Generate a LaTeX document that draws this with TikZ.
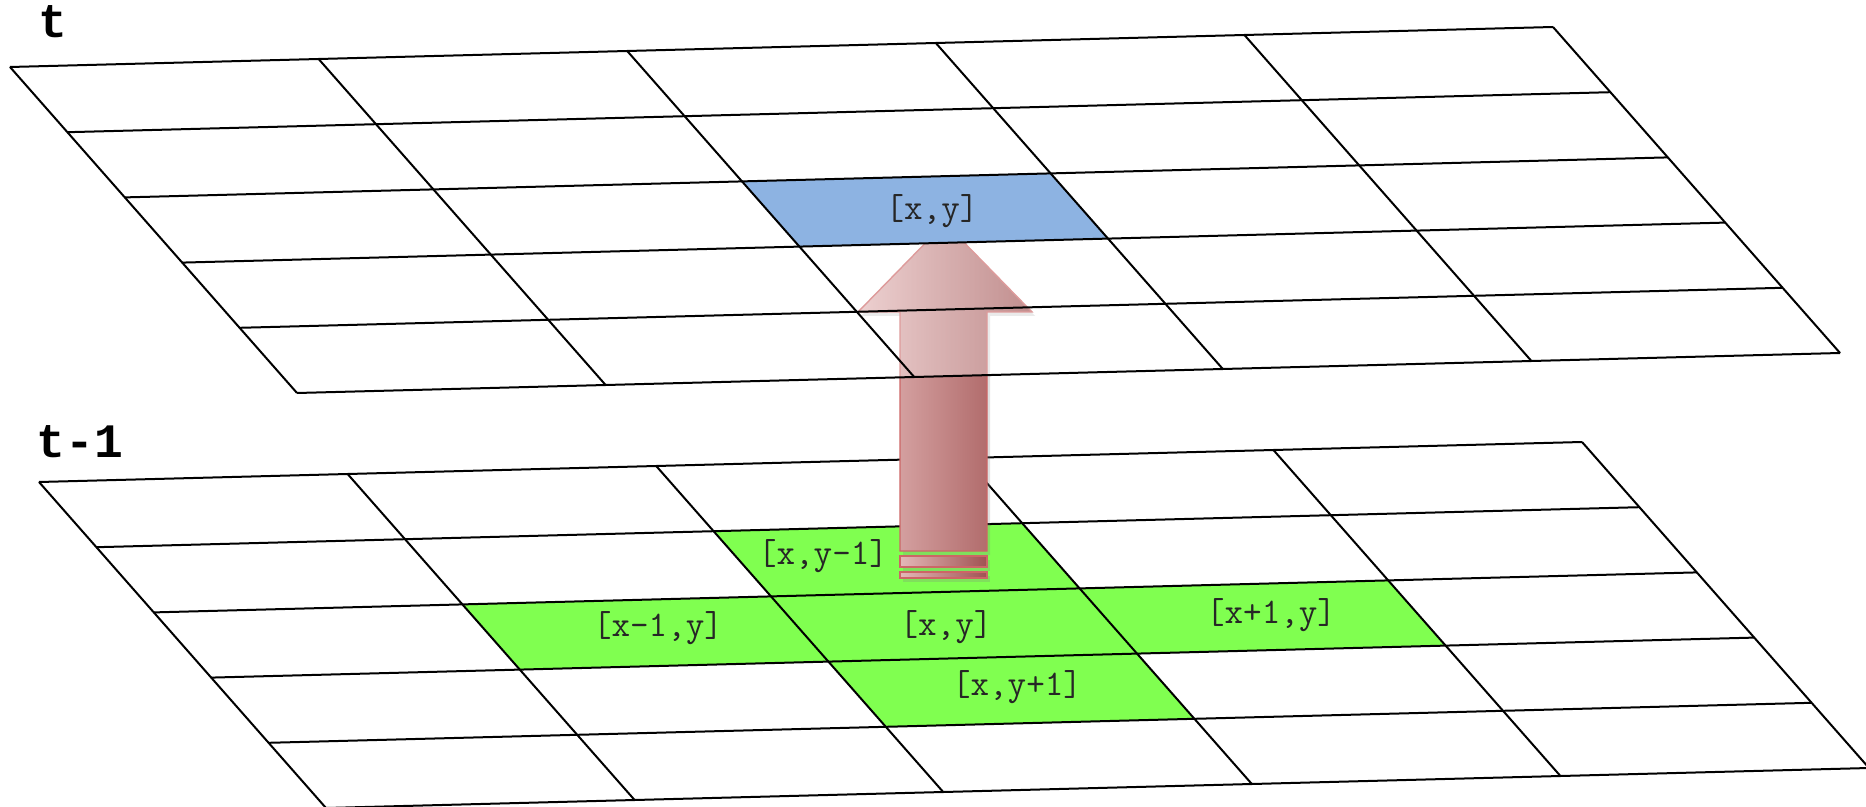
\documentclass[tikz,border=0pt]{standalone}
\usepackage{fontspec}
\newfontfamily\planefont{Liberation Mono}
\usepackage{tikz}
\usetikzlibrary{shadows}
\definecolor{cellblue}{HTML}{8DB3E2}
\definecolor{cellgreen}{HTML}{80FF50}
\definecolor{arrowlight}{HTML}{E4B8B8}
\definecolor{arrowdark}{HTML}{A05252}
\definecolor{arrowline}{HTML}{CC6666}

\begin{document}
\begin{tikzpicture}[x=0.5pt,y=-0.5pt,
  gl/.style={black,line width=1pt},
  skew/.style={x={(154.3pt,4pt)},y={(28.7pt,-32.6pt)}},
  lbl/.style={font=\fontsize{18}{21}\selectfont\ttfamily,text=black!85,inner sep=1pt},
  tl/.style={font=\fontsize{24}{28}\selectfont\planefont\bfseries,inner sep=0pt},
  up/.style={draw=arrowline,line width=0.7pt,left color=arrowlight,right color=arrowdark,
             drop shadow={opacity=0.25,shadow xshift=1.5pt,shadow yshift=-2pt}}]
\useasboundingbox (0,0) rectangle (1866,807);
% ---------------- plane t-1
\begin{scope}[shift={(39,482)},skew]
  \foreach \i/\j in {2/1,1/2,2/2,3/2,2/3}
    \fill[cellgreen] (\i,\j) -- ++(1,0) -- ++(0,1) -- ++(-1,0) -- cycle;
  \foreach \k in {0,...,5} {\draw[gl] (\k,0) -- (\k,5); \draw[gl] (0,\k) -- (5,\k);}
\end{scope}
\node[tl] (tm) at (80,442) {t-1};
\node[lbl] (bym) at (823,556) {[x,y-1]};
\node[lbl] (bxm) at (658,628) {[x-1,y]};
\node[lbl] (bxy) at (946,627) {[x,y]};
\node[lbl] (bxp) at (1271,615) {[x+1,y]};
\node[lbl] (byp) at (1017,687) {[x,y+1]};
% ---------------- arrow between the planes
\path[up] (900,551) -- (900,312) -- (858,312) -- (945,223) -- (1032,312)
  -- (987,312) -- (987,551) -- cycle;
\path[up] (900,556) rectangle (987,567);
\path[up] (900,572) rectangle (987,578);
% ---------------- plane t
\begin{scope}[shift={(10,67)},skew]
  \fill[white,opacity=0.35] (0,0) -- (5,0) -- (5,5) -- (0,5) -- cycle;
  \fill[cellblue] (2,2) -- ++(1,0) -- ++(0,1) -- ++(-1,0) -- cycle;
  \foreach \k in {0,...,5} {\draw[gl] (\k,0) -- (\k,5); \draw[gl] (0,\k) -- (5,\k);}
\end{scope}
\node[tl] (tt) at (53,22) {t};
\node[lbl] (txy) at (932,211) {[x,y]};
\end{tikzpicture}
\end{document}
